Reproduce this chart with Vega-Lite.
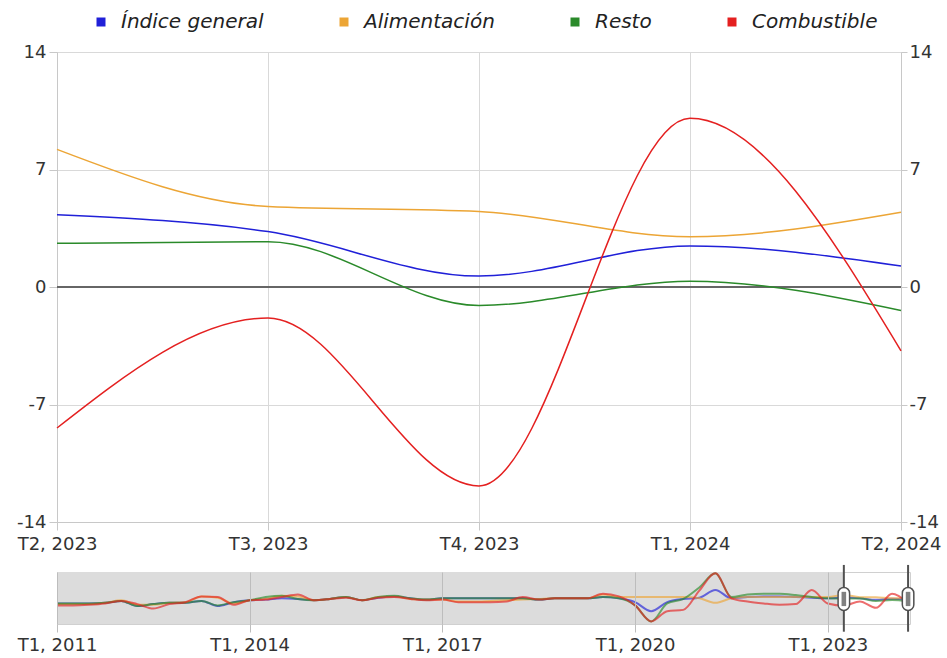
{
  "$schema": "https://vega.github.io/schema/vega-lite/v6.json",
  "background": "white",
  "padding": {"left": 16, "top": 12, "right": 0, "bottom": 0},
  "spacing": 50,
  "bounds": "flush",
  "config": {
    "view": {"stroke": "#d0d0d0"},
    "font": "DejaVu Sans",
    "axis": {"labelFont": "DejaVu Sans", "labelFontSize": 18, "labelColor": "#333333"}
  },
  "data": {
    "values": [
      {"q": 0, "Índice general": -5, "Alimentación": -6, "Resto": -5, "Combustible": -8},
      {"q": 1, "Índice general": -5, "Alimentación": -6, "Resto": -5, "Combustible": -8},
      {"q": 2, "Índice general": -5, "Alimentación": -6, "Resto": -5, "Combustible": -7},
      {"q": 3, "Índice general": -4, "Alimentación": -4, "Resto": -4, "Combustible": -5},
      {"q": 4, "Índice general": -1, "Alimentación": 0, "Resto": -1, "Combustible": -1},
      {"q": 5, "Índice general": -9, "Alimentación": -7, "Resto": -9, "Combustible": -6},
      {"q": 6, "Índice general": -6, "Alimentación": -7, "Resto": -6, "Combustible": -13},
      {"q": 7, "Índice general": -4, "Alimentación": -4, "Resto": -4, "Combustible": -6},
      {"q": 8, "Índice general": -4, "Alimentación": -3, "Resto": -4, "Combustible": -3},
      {"q": 9, "Índice general": -1, "Alimentación": 6, "Resto": -1, "Combustible": 6},
      {"q": 10, "Índice general": -9, "Alimentación": 4, "Resto": -8, "Combustible": 5},
      {"q": 11, "Índice general": -3, "Alimentación": -5, "Resto": -3, "Combustible": -7},
      {"q": 12, "Índice general": 0, "Alimentación": 0, "Resto": 0, "Combustible": 0},
      {"q": 13, "Índice general": 1, "Alimentación": 2, "Resto": 5, "Combustible": 1},
      {"q": 14, "Índice general": 3, "Alimentación": 7, "Resto": 7, "Combustible": 5},
      {"q": 15, "Índice general": 2, "Alimentación": 6, "Resto": 2, "Combustible": 9},
      {"q": 16, "Índice general": 0, "Alimentación": 0, "Resto": 0, "Combustible": 0},
      {"q": 17, "Índice general": 2, "Alimentación": 2, "Resto": 2, "Combustible": 2},
      {"q": 18, "Índice general": 5, "Alimentación": 5, "Resto": 5, "Combustible": 4},
      {"q": 19, "Índice general": 0, "Alimentación": 0, "Resto": 0, "Combustible": 0},
      {"q": 20, "Índice general": 4, "Alimentación": 5, "Resto": 5, "Combustible": 4},
      {"q": 21, "Índice general": 6, "Alimentación": 6, "Resto": 7, "Combustible": 5},
      {"q": 22, "Índice general": 3, "Alimentación": 2, "Resto": 3, "Combustible": 2},
      {"q": 23, "Índice general": 1, "Alimentación": 1, "Resto": 1, "Combustible": 0},
      {"q": 24, "Índice general": 3, "Alimentación": 1, "Resto": 3, "Combustible": 1},
      {"q": 25, "Índice general": 3, "Alimentación": -2, "Resto": 3, "Combustible": -3},
      {"q": 26, "Índice general": 3, "Alimentación": -2, "Resto": 3, "Combustible": -3},
      {"q": 27, "Índice general": 3, "Alimentación": -1, "Resto": 3, "Combustible": -3},
      {"q": 28, "Índice general": 3, "Alimentación": 0, "Resto": 3, "Combustible": -2},
      {"q": 29, "Índice general": 3, "Alimentación": 1, "Resto": 3, "Combustible": 5},
      {"q": 30, "Índice general": 1, "Alimentación": 2, "Resto": 1, "Combustible": 1},
      {"q": 31, "Índice general": 3, "Alimentación": 3, "Resto": 3, "Combustible": 3},
      {"q": 32, "Índice general": 3, "Alimentación": 3, "Resto": 3, "Combustible": 3},
      {"q": 33, "Índice general": 3, "Alimentación": 3, "Resto": 3, "Combustible": 3},
      {"q": 34, "Índice general": 5, "Alimentación": 9, "Resto": 5, "Combustible": 10},
      {"q": 35, "Índice general": 3, "Alimentación": 5, "Resto": 3, "Combustible": 6},
      {"q": 36, "Índice general": -3, "Alimentación": 5, "Resto": -8, "Combustible": -8},
      {"q": 37, "Índice general": -17, "Alimentación": 5, "Resto": -33, "Combustible": -33},
      {"q": 38, "Índice general": -3, "Alimentación": 5, "Resto": -5, "Combustible": -17},
      {"q": 39, "Índice general": 2, "Alimentación": 5, "Resto": 2, "Combustible": -15},
      {"q": 40, "Índice general": 4, "Alimentación": 3, "Resto": 20, "Combustible": 15},
      {"q": 41, "Índice general": 16, "Alimentación": -4, "Resto": 42, "Combustible": 42},
      {"q": 42, "Índice general": 3, "Alimentación": 3, "Resto": 5, "Combustible": 3},
      {"q": 43, "Índice general": 5, "Alimentación": 5, "Resto": 9, "Combustible": -2},
      {"q": 44, "Índice general": 6, "Alimentación": 5, "Resto": 10, "Combustible": -5},
      {"q": 45, "Índice general": 6, "Alimentación": 5, "Resto": 10, "Combustible": -7},
      {"q": 46, "Índice general": 5, "Alimentación": 5, "Resto": 8, "Combustible": -6},
      {"q": 47, "Índice general": 4, "Alimentación": 5, "Resto": 5, "Combustible": 16},
      {"q": 48, "Índice general": 3, "Alimentación": 5, "Resto": 3, "Combustible": -5},
      {"q": 49, "Índice general": 4.3, "Alimentación": 8.2, "Resto": 2.6, "Combustible": -8.4},
      {"q": 50, "Índice general": 3.3, "Alimentación": 4.8, "Resto": 2.7, "Combustible": -1.85},
      {"q": 51, "Índice general": 0.65, "Alimentación": 4.5, "Resto": -1.1, "Combustible": -11.85},
      {"q": 52, "Índice general": 2.45, "Alimentación": 3.0, "Resto": 0.35, "Combustible": 10.05},
      {"q": 53, "Índice general": 1.25, "Alimentación": 4.45, "Resto": -1.4, "Combustible": -3.8}
    ]
  },
  "transform": [
    {"fold": ["Índice general", "Alimentación", "Resto", "Combustible"], "as": ["serie", "valor"]}
  ],
  "vconcat": [
    {
      "width": 844,
      "height": 470,
      "resolve": {"scale": {"y": "independent"}, "axis": {"y": "independent"}},
      "layer": [
        {
          "data": {"values": [{"cero": 0}]},
          "mark": {"type": "rule", "color": "#666666", "strokeWidth": 2},
          "encoding": {
            "y": {
              "field": "cero", "type": "quantitative",
              "scale": {"domain": [-14, 14], "nice": false},
              "axis": {"orient": "right", "values": [-14, -7, 0, 7, 14], "labelExpr": "'' + datum.value", "grid": false, "tickSize": 6, "tickColor": "#c8c8c8", "domainColor": "#c8c8c8", "labelPadding": 2, "title": null}
            }
          }
        },
        {
          "transform": [{"filter": "datum.q >= 49"}],
          "mark": {"type": "line", "interpolate": "monotone", "strokeWidth": 1.5},
          "encoding": {
            "x": {
              "field": "q", "type": "quantitative",
              "scale": {"domain": [49, 53], "nice": false, "zero": false},
              "axis": {"values": [49, 50, 51, 52, 53], "labelExpr": "'T' + (datum.value % 4 + 1) + ', ' + (2011 + floor(datum.value / 4))", "grid": true, "gridColor": "#d9d9d9", "tickSize": 8, "tickColor": "#c8c8c8", "domainColor": "#c8c8c8", "labelPadding": 5, "labelFlush": false, "labelOverlap": false, "title": null}
            },
            "y": {
              "field": "valor", "type": "quantitative",
              "scale": {"domain": [-14, 14], "nice": false},
              "axis": {"values": [-14, -7, 0, 7, 14], "labelExpr": "'' + datum.value", "grid": true, "gridColor": "#d9d9d9", "tickSize": 8, "tickColor": "#c8c8c8", "domainColor": "#c8c8c8", "labelPadding": 3, "title": null}
            },
            "color": {
              "field": "serie", "type": "nominal",
              "scale": {"domain": ["Índice general", "Alimentación", "Resto", "Combustible"], "range": ["#2020d8", "#eca535", "#2a8a2a", "#e42020"]},
              "legend": {
                "orient": "none", "legendX": 34, "legendY": -40, "direction": "horizontal", "title": null,
                "symbolType": "square", "symbolSize": 81, "labelFontSize": 20, "labelFontStyle": "italic", "labelFont": "DejaVu Sans", "labelColor": "#222222",
                "labelOffset": 10, "columnPadding": 70, "padding": 0,
                "encode": {"symbols": {"update": {"fill": {"scale": "color", "field": "value"}, "strokeWidth": {"value": 0}, "opacity": {"value": 1}}}}
              }
            }
          }
        }
      ]
    },
    {
      "width": 853,
      "height": 52,
      "layer": [
        {
          "data": {"values": [{"desde": 0, "hasta": 49}]},
          "mark": {"type": "rect", "color": "#dcdcdc"},
          "encoding": {
            "x": {
              "field": "desde", "type": "quantitative",
              "scale": {"domain": [0, 53.12], "nice": false, "zero": false},
              "axis": {"values": [0, 12, 24, 36, 48], "labelExpr": "'T' + (datum.value % 4 + 1) + ', ' + (2011 + floor(datum.value / 4))", "grid": true, "gridColor": "#bdbdbd", "tickSize": 8, "tickColor": "#bdbdbd", "domain": false, "labelPadding": 4, "labelFlush": false, "labelOverlap": false, "zindex": 1, "title": null}
            },
            "x2": {"field": "hasta"},
            "y": {"datum": 44, "type": "quantitative", "scale": {"domain": [-37, 44], "nice": false}, "axis": null},
            "y2": {"datum": -37}
          }
        },
        {
          "mark": {"type": "line", "interpolate": "monotone", "strokeWidth": 2, "opacity": 0.65},
          "encoding": {
            "x": {"field": "q", "type": "quantitative"},
            "y": {"field": "valor", "type": "quantitative"},
            "color": {"field": "serie", "type": "nominal", "legend": null}
          }
        },
        {
          "data": {"values": [{"q": 49}, {"q": 53}]},
          "mark": {"type": "rule", "color": "#505050", "strokeWidth": 2},
          "encoding": {
            "x": {"field": "q", "type": "quantitative"},
            "y": {"datum": 55, "type": "quantitative"},
            "y2": {"datum": -49}
          }
        },
        {
          "data": {"values": [{"q": 49}, {"q": 53}]},
          "mark": {"type": "point", "shape": "M-0.5,-0.5 A0.5,0.5 0 0 1 0.5,-0.5 L0.5,0.5 A0.5,0.5 0 0 1 -0.5,0.5 Z", "size": 529, "filled": true, "fill": "white", "stroke": "#505050", "strokeWidth": 1.5, "opacity": 1},
          "encoding": {
            "x": {"field": "q", "type": "quantitative"},
            "y": {"datum": 2, "type": "quantitative"}
          }
        },
        {
          "data": {"values": [{"q": 49}, {"q": 53}]},
          "mark": {"type": "point", "shape": "M-0.2,-0.62 L0.2,-0.62 L0.2,0.62 L-0.2,0.62 Z", "size": 529, "filled": true, "fill": "#808080", "strokeWidth": 0, "opacity": 1},
          "encoding": {
            "x": {"field": "q", "type": "quantitative"},
            "y": {"datum": 2, "type": "quantitative"}
          }
        }
      ]
    }
  ]
}
